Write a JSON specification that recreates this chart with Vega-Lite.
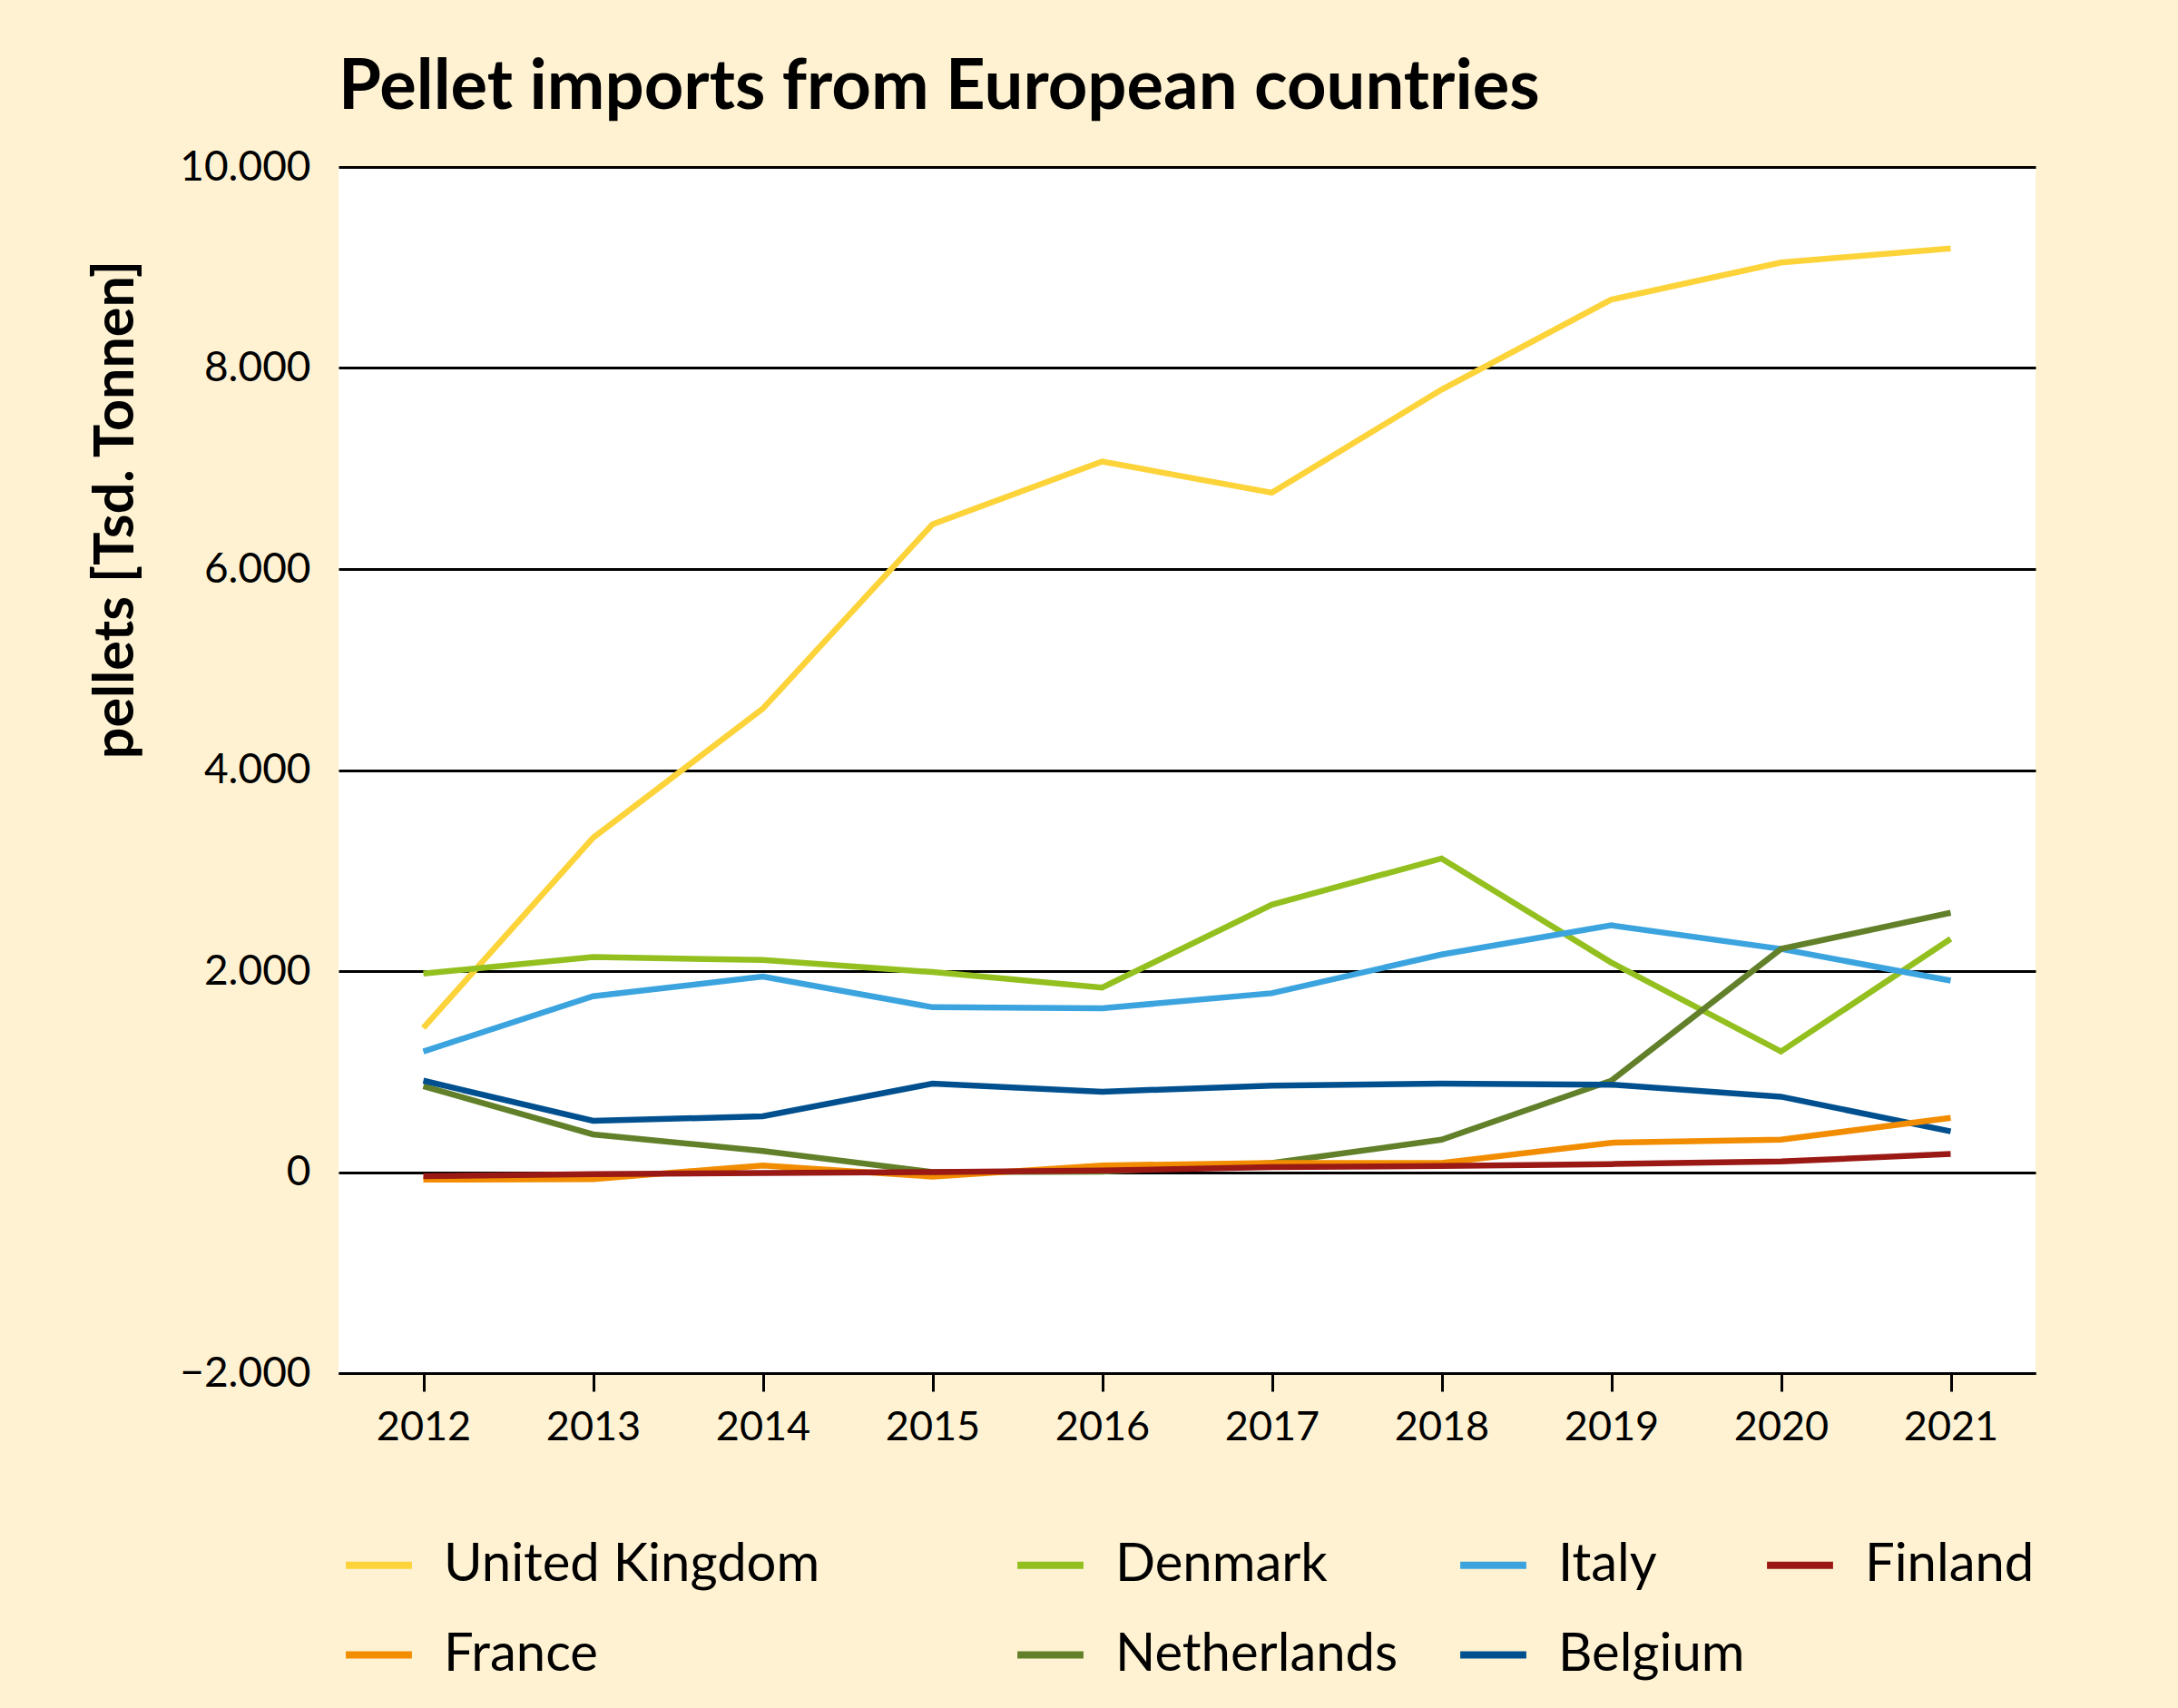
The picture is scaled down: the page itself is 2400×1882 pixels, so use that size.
{
  "$schema": "https://vega.github.io/schema/vega-lite/v6.json",
  "autosize": {"type": "none"},
  "padding": {"left": 373, "top": 184, "right": 157, "bottom": 369},
  "width": 1870,
  "height": 1329,
  "background": "#FEF2D2",
  "title": {
    "text": "Pellet imports from European countries",
    "anchor": "start",
    "frame": "group",
    "font": "Lato",
    "fontSize": 76,
    "fontWeight": "bold",
    "color": "black",
    "baseline": "alphabetic",
    "offset": -35
  },
  "data": {
    "values": [
      {"country": "United Kingdom", "year": "2012", "value": 1435},
      {"country": "United Kingdom", "year": "2013", "value": 3326},
      {"country": "United Kingdom", "year": "2014", "value": 4610},
      {"country": "United Kingdom", "year": "2015", "value": 6445},
      {"country": "United Kingdom", "year": "2016", "value": 7070},
      {"country": "United Kingdom", "year": "2017", "value": 6760},
      {"country": "United Kingdom", "year": "2018", "value": 7785},
      {"country": "United Kingdom", "year": "2019", "value": 8680},
      {"country": "United Kingdom", "year": "2020", "value": 9050},
      {"country": "United Kingdom", "year": "2021", "value": 9190},
      {"country": "Denmark", "year": "2012", "value": 1975},
      {"country": "Denmark", "year": "2013", "value": 2140},
      {"country": "Denmark", "year": "2014", "value": 2110},
      {"country": "Denmark", "year": "2015", "value": 1990},
      {"country": "Denmark", "year": "2016", "value": 1835},
      {"country": "Denmark", "year": "2017", "value": 2660},
      {"country": "Denmark", "year": "2018", "value": 3120},
      {"country": "Denmark", "year": "2019", "value": 2085},
      {"country": "Denmark", "year": "2020", "value": 1200},
      {"country": "Denmark", "year": "2021", "value": 2320},
      {"country": "Italy", "year": "2012", "value": 1200},
      {"country": "Italy", "year": "2013", "value": 1750},
      {"country": "Italy", "year": "2014", "value": 1945},
      {"country": "Italy", "year": "2015", "value": 1640},
      {"country": "Italy", "year": "2016", "value": 1630},
      {"country": "Italy", "year": "2017", "value": 1780},
      {"country": "Italy", "year": "2018", "value": 2165},
      {"country": "Italy", "year": "2019", "value": 2455},
      {"country": "Italy", "year": "2020", "value": 2220},
      {"country": "Italy", "year": "2021", "value": 1905},
      {"country": "Netherlands", "year": "2012", "value": 855},
      {"country": "Netherlands", "year": "2013", "value": 375},
      {"country": "Netherlands", "year": "2014", "value": 210},
      {"country": "Netherlands", "year": "2015", "value": 0},
      {"country": "Netherlands", "year": "2016", "value": 5},
      {"country": "Netherlands", "year": "2017", "value": 90},
      {"country": "Netherlands", "year": "2018", "value": 322},
      {"country": "Netherlands", "year": "2019", "value": 910},
      {"country": "Netherlands", "year": "2020", "value": 2220},
      {"country": "Netherlands", "year": "2021", "value": 2580},
      {"country": "Belgium", "year": "2012", "value": 910},
      {"country": "Belgium", "year": "2013", "value": 510},
      {"country": "Belgium", "year": "2014", "value": 555},
      {"country": "Belgium", "year": "2015", "value": 880},
      {"country": "Belgium", "year": "2016", "value": 800},
      {"country": "Belgium", "year": "2017", "value": 860},
      {"country": "Belgium", "year": "2018", "value": 880},
      {"country": "Belgium", "year": "2019", "value": 870},
      {"country": "Belgium", "year": "2020", "value": 750},
      {"country": "Belgium", "year": "2021", "value": 405},
      {"country": "France", "year": "2012", "value": -75},
      {"country": "France", "year": "2013", "value": -70},
      {"country": "France", "year": "2014", "value": 66},
      {"country": "France", "year": "2015", "value": -45},
      {"country": "France", "year": "2016", "value": 66},
      {"country": "France", "year": "2017", "value": 90},
      {"country": "France", "year": "2018", "value": 90},
      {"country": "France", "year": "2019", "value": 292},
      {"country": "France", "year": "2020", "value": 322},
      {"country": "France", "year": "2021", "value": 540},
      {"country": "Finland", "year": "2012", "value": -40},
      {"country": "Finland", "year": "2013", "value": -20},
      {"country": "Finland", "year": "2014", "value": -10},
      {"country": "Finland", "year": "2015", "value": 0},
      {"country": "Finland", "year": "2016", "value": 15},
      {"country": "Finland", "year": "2017", "value": 50},
      {"country": "Finland", "year": "2018", "value": 60},
      {"country": "Finland", "year": "2019", "value": 80},
      {"country": "Finland", "year": "2020", "value": 105},
      {"country": "Finland", "year": "2021", "value": 180}
    ]
  },
  "mark": {"type": "line", "strokeWidth": 6.5, "strokeJoin": "miter", "strokeCap": "butt"},
  "encoding": {
    "x": {
      "field": "year",
      "type": "ordinal",
      "scale": {"type": "point", "padding": 0.5},
      "axis": {
        "title": null,
        "labelAngle": 0,
        "labelFont": "Lato",
        "labelFontSize": 45,
        "labelColor": "black",
        "labelPadding": 17,
        "domainColor": "black",
        "domainWidth": 3,
        "tickColor": "black",
        "tickWidth": 3,
        "tickSize": 20,
        "grid": false
      }
    },
    "y": {
      "field": "value",
      "type": "quantitative",
      "scale": {"domain": [-2000, 10000], "nice": false, "zero": false},
      "axis": {
        "values": [-2000, 0, 2000, 4000, 6000, 8000, 10000],
        "format": ",d",
        "title": "pellets [Tsd. Tonnen]",
        "titleFont": "Lato",
        "titleFontSize": 61,
        "titleFontWeight": "bold",
        "titleColor": "black",
        "titleAlign": "center",
        "titleBaseline": "middle",
        "titleX": -245,
        "titleY": 377,
        "labelFont": "Lato",
        "labelFontSize": 46,
        "labelColor": "black",
        "labelPadding": 31,
        "domain": false,
        "ticks": false,
        "grid": true,
        "gridColor": "black",
        "gridWidth": 3,
        "gridOpacity": 1
      }
    },
    "color": {
      "field": "country",
      "type": "nominal",
      "scale": {
        "domain": ["United Kingdom", "Denmark", "Italy", "Finland", "France", "Netherlands", "Belgium"],
        "range": ["#FDD33A", "#93C01F", "#3BA4DF", "#9A1915", "#F28C00", "#62802A", "#00508F"]
      },
      "legend": {
        "title": null,
        "orient": "none",
        "direction": "horizontal",
        "legendX": 4,
        "legendY": 1500,
        "columns": 4,
        "columnPadding": 8,
        "rowPadding": 29,
        "symbolType": "stroke",
        "symbolSize": 5300,
        "symbolStrokeWidth": 8,
        "labelFont": "Lato",
        "labelFontSize": 58,
        "labelColor": "black",
        "labelOffset": 31,
        "labelLimit": 1000,
        "labelExpr": "datum.label == 'United Kingdom' ? datum.label + '\u00a0\u00a0\u00a0\u00a0\u00a0\u00a0\u00a0\u00a0\u00a0\u00a0\u00a0\u00a0\u00a0\u200b' : datum.label == 'Netherlands' ? datum.label + '\u00a0\u00a0\u00a0\u200b' : datum.label"
      }
    }
  },
  "config": {
    "locale": {
      "number": {"decimal": ",", "thousands": ".", "grouping": [3], "currency": ["", " €"]}
    },
    "view": {"fill": "white", "stroke": null}
  }
}
